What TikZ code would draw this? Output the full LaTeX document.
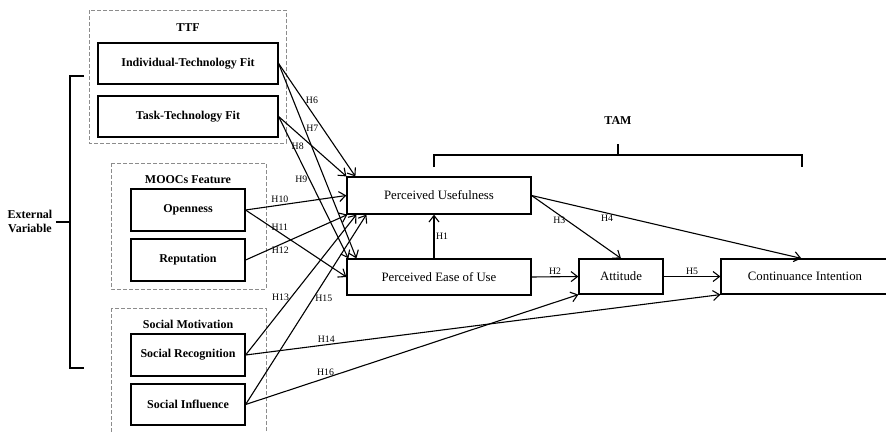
\documentclass[tikz,border=0pt]{standalone}
\usepackage{fontspec}
\setmainfont{Liberation Serif}
\usetikzlibrary{calc,arrows.meta}

\tikzset{
	factor/.style={draw, line width=1.2pt, inner sep=0pt, font=\fontsize{12}{14}\selectfont\bfseries},
	construct/.style={draw, line width=1.2pt, inner sep=0pt, font=\fontsize{12.8}{15}\selectfont},
	group/.style={draw=black!45, line width=1pt, dash pattern=on 4pt off 2pt},
	title/.style={font=\fontsize{12}{14}\selectfont\bfseries},
	hyp/.style={line width=1.1pt, -{Straight Barb[length=6.5pt,width=10pt]}},
	hlabel/.style={font=\fontsize{9.8}{11}\selectfont, inner sep=1.5pt},
	brace/.style={line width=2pt},
}

\begin{document}
\begin{tikzpicture}[x=1pt, y=-1pt]
			%%%%% START %%%%%
			\useasboundingbox (0,0) rectangle (886,431);
			
			% dashed groups
			\draw[group] (89,10) rectangle (286,143);
			\node[title] (ttf) at (188,28) {TTF};
			\draw[group] (111,163) rectangle (266,289);
			\node[title] (mooc) at (188,180) {MOOCs Feature};
			\draw[group] (111,308) rectangle (266,445);
			\node[title] (socmot) at (188,324) {Social Motivation};
			
			% external factors
			\node[factor, minimum width=180pt, minimum height=41pt] (itf) at (188,63.5) {Individual-Technology Fit};
			\node[factor, minimum width=180pt, minimum height=41pt] (ttfit) at (188,116.5) {Task-Technology Fit};
			\node[factor, minimum width=114pt, minimum height=42pt] (open) at (188,210) {Openness};
			\node[factor, minimum width=114pt, minimum height=42pt] (rep) at (188,260) {Reputation};
			\node[factor, minimum width=114pt, minimum height=42pt] (srec) at (188,355) {Social Recognition};
			\node[factor, minimum width=114pt, minimum height=41pt] (sinf) at (188,404.5) {Social Influence};
			
			% TAM constructs
			\node[construct, minimum width=184pt, minimum height=37pt] (pu) at (439,195.5) {Perceived Usefulness};
			\node[construct, minimum width=184pt, minimum height=36pt] (peou) at (439,277) {Perceived Ease of Use};
			\node[construct, minimum width=84pt, minimum height=35pt] (att) at (621,276.5) {Attitude};
			\node[construct, minimum width=168pt, minimum height=35pt] (ci) at (805,276.5) {Continuance Intention};
			
			% brackets
			\node[title, align=center] (ext) at (30,221) {External\\Variable};
			\coordinate (extmid) at (70,222);
			\draw[brace] (84,76) -- (70,76) -- (70,368) -- (84,368);
			\draw[brace] (ext.east |- extmid) -- (extmid);
			
			\node[title] (tam) at (618,121) {TAM};
			\coordinate (tammid) at (618,155);
			\draw[brace] (434,167) -- (434,155) -- (802,155) -- (802,167);
			\draw[brace] (tammid) -- (618,144);
			
			% hypotheses
			\draw[hyp] ($(peou.north)+(-5,0)$) -- node[hlabel, midway, right] {H1} ($(pu.south)+(-5,0)$);
			\draw[hyp] (peou.east) -- node[hlabel, midway, above] {H2} (att.west);
			\draw[hyp] (pu.east) -- node[hlabel, pos=0.4, left] {H3} (att.north);
			\draw[hyp] (pu.east) -- node[hlabel, pos=0.28, below] {H4} ($(ci.north west)+(81,0)$);
			\draw[hyp] (att.east) -- node[hlabel, midway, above] {H5} (ci.west);
			
			\draw[hyp] (itf.east) -- node[hlabel, pos=0.33, right] {H6} ($(pu.north west)+(9,0)$);
			\draw[hyp] (itf.east) -- node[hlabel, pos=0.33, right] {H7} ($(peou.north west)+(10,0)$);
			\draw[hyp] (ttfit.east) -- node[hlabel, pos=0.4, below left] {H8} (pu.north west);
			\draw[hyp] (ttfit.east) -- node[hlabel, pos=0.44, left] {H9} ($(peou.north west)+(2,0)$);
			
			\draw[hyp] (open.east) -- node[hlabel, pos=0.34, above] {H10} (pu.west);
			\draw[hyp] (open.east) -- node[hlabel, pos=0.34, above] {H11} (peou.west);
			\draw[hyp] (rep.east) -- node[hlabel, pos=0.34, below] {H12} ($(pu.south west)+(1,0)$);
			
			\draw[hyp] (srec.east) -- node[hlabel, pos=0.41, left] {H13} ($(pu.south west)+(10,0)$);
			\draw[hyp] (srec.east) -- node[hlabel, pos=0.17, above] {H14} (ci.south west);
			\draw[hyp] (sinf.east) -- node[hlabel, pos=0.56, right] {H15} ($(pu.south west)+(20,0)$);
			\draw[hyp] (sinf.east) -- node[hlabel, pos=0.24, above] {H16} (att.south west);
			%%%%% END %%%%%
\end{tikzpicture}
\end{document}
